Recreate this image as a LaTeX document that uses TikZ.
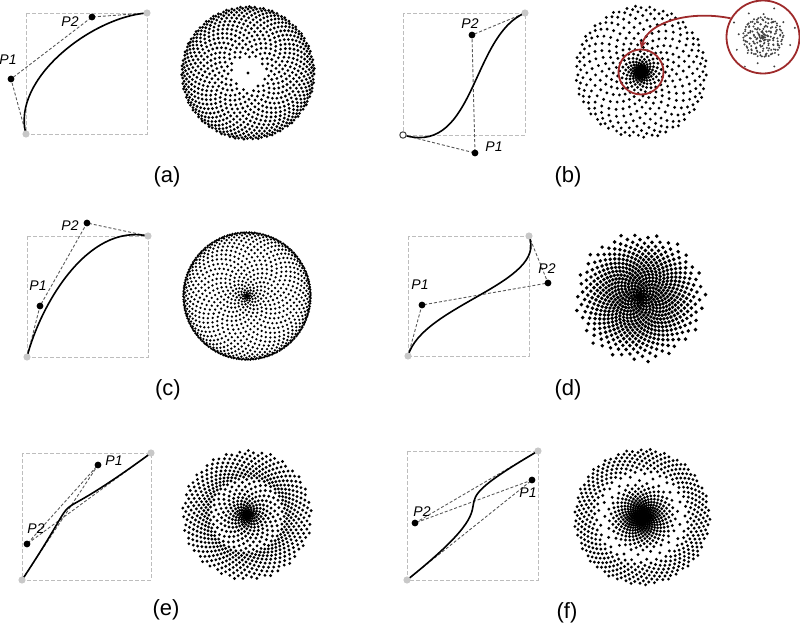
\documentclass[tikz,border=0pt]{standalone}
\usepackage{fontspec}
\setmainfont{Liberation Sans}
\usetikzlibrary{positioning,arrows.meta,backgrounds}
\definecolor{LensRed}{HTML}{9E2A2B}
\definecolor{BoxGray}{HTML}{BDBDBD}
\definecolor{EndGray}{HTML}{C8C8C8}

% sunflower disc: dot i at golden angle, radius from the Bezier (index -> radius)
\newcount\sfi
\newcommand\sfcurve[4]{\def\sfpa{#1}\def\sfqa{#2}\def\sfpb{#3}\def\sfqb{#4}}
\newcommand\sfmarch{%
  \let\sfnext\relax
  \ifdim\sft pt<1pt
    \pgfmathsetmacro\sfbx{3*(1-\sft)*(1-\sft)*\sft*(\sfpa)+3*(1-\sft)*\sft*\sft*(\sfpb)+\sft*\sft*\sft}%
    \ifdim\sfbx pt<\sfgoal pt
      \pgfmathsetmacro\sft{\sft+0.001}%
      \let\sfnext\sfmarch
    \fi
  \fi
  \sfnext}
\newcommand\sunflower[6]{% centre x, centre y, radius, dots, dot radius, last dot
  \def\sft{0}\def\sfa{0}\sfi=-1
  \loop
    \advance\sfi by 1
    \pgfmathsetmacro\sfgoal{\the\sfi/#4}%
    \sfmarch
    \pgfmathsetmacro\sfr{#3*(3*(1-\sft)*(1-\sft)*\sft*(\sfqa)+3*(1-\sft)*\sft*\sft*(\sfqb)+\sft*\sft*\sft)}%
    \pgfmathsetmacro\sfx{#1+\sfr*cos(\sfa)}%
    \pgfmathsetmacro\sfy{#2+\sfr*sin(\sfa)}%
    \fill (\sfx,\sfy) circle[radius=#5];
    \pgfmathsetmacro\sfa{mod(\sfa+137.50776,360)}%
  \ifnum\sfi<#6 \repeat}

\begin{document}
\begin{tikzpicture}[x=0.5pt,y=-0.5pt,
  frame/.style={draw=BoxGray, line width=0.5pt, dash pattern=on 2pt off 1pt},
  hull/.style={draw=black!65, line width=0.45pt, dash pattern=on 1.5pt off 1pt},
  bez/.style={draw=black, line width=0.8pt},
  ctrl/.style={circle, fill=black, inner sep=0pt, minimum size=3.4pt},
  endp/.style={circle, fill=EndGray, inner sep=0pt, minimum size=3.6pt},
  openp/.style={circle, draw=black!75, fill=white, line width=0.5pt, inner sep=0pt, minimum size=3.2pt},
  plab/.style={font=\fontsize{7}{8}\selectfont\itshape},
  tag/.style={font=\fontsize{11}{13}\selectfont},
  lens/.style={circle, draw=LensRed, line width=0.9pt, inner sep=0pt}]
\useasboundingbox (0,0) rectangle (800,627);

% (a)
\node[endp] (a0) at (26,134) {};
\node[ctrl] (a1) at (11,79) {};
\node[ctrl] (a2) at (92,17) {};
\node[endp] (a3) at (147,13) {};
\node[plab] (a1l) at (8,60) {P1};
\node[plab] (a2l) at (70,22) {P2};
\begin{scope}[on background layer]
\draw[frame] (26,13) rectangle (147,134);
\draw[hull] (a0.center) -- (a1.center) -- (a2.center) -- (a3.center);
\draw[bez] (a0.center) .. controls (a1.center) and (a2.center) .. (a3.center);
\end{scope}
\sfcurve{-0.124}{0.455}{0.545}{0.967}
\sunflower{248}{73}{66.5}{800}{1.55}{800}
\node[tag] (taga) at (167,177) {(a)};

% (b)
\node[openp] (b0) at (403,135) {};
\node[ctrl] (b1) at (475,153) {};
\node[ctrl] (b2) at (472,35) {};
\node[endp] (b3) at (525,13) {};
\node[plab] (b1l) at (494,147) {P1};
\node[plab] (b2l) at (470,24) {P2};
\begin{scope}[on background layer]
\draw[frame] (403,13) rectangle (525,135);
\draw[hull] (b0.center) -- (b1.center) -- (b2.center) -- (b3.center);
\draw[bez] (b0) .. controls (b1.center) and (b2.center) .. (b3.center);
\end{scope}
\sfcurve{0.590}{-0.148}{0.566}{0.820}
\sunflower{641}{72}{66}{680}{1.6}{680}
\begin{scope}[black!75]
\clip (763,37) circle[radius=35];
\sunflower{763}{37}{1300}{680}{1.1}{220}
\end{scope}
\node[lens, minimum size=22.5pt] (lens) at (641,72) {};
\node[lens, minimum size=36.5pt] (inset) at (763,37) {};
\draw[LensRed, line width=0.9pt, -{Stealth[length=4pt,width=3.5pt]}]
  (inset.150) .. controls (690,10) and (648,22) .. (lens.north);
\node[tag] (tagb) at (568,177) {(b)};

% (c)
\node[endp] (c0) at (27,357) {};
\node[ctrl] (c1) at (40,306) {};
\node[ctrl] (c2) at (87,223) {};
\node[endp] (c3) at (148,236) {};
\node[plab] (c1l) at (38,286) {P1};
\node[plab] (c2l) at (70,226) {P2};
\begin{scope}[on background layer]
\draw[frame] (27,236) rectangle (148,357);
\draw[hull] (c0.center) -- (c1.center) -- (c2.center) -- (c3.center);
\draw[bez] (c0.center) .. controls (c1.center) and (c2.center) .. (c3.center);
\end{scope}
\sfcurve{0.107}{0.421}{0.496}{1.107}
\sunflower{247}{296}{63}{1000}{1.3}{1000}
\node[tag] (tagc) at (168,390) {(c)};

% (d)
\node[endp] (d0) at (408,356) {};
\node[ctrl] (d1) at (422,305) {};
\node[ctrl] (d2) at (548,283) {};
\node[endp] (d3) at (529,236) {};
\node[plab] (d1l) at (420,285) {P1};
\node[plab] (d2l) at (547,269) {P2};
\begin{scope}[on background layer]
\draw[frame] (408,236) rectangle (529,356);
\draw[hull] (d0.center) -- (d1.center) -- (d2.center) -- (d3.center);
\draw[bez] (d0.center) .. controls (d1.center) and (d2.center) .. (d3.center);
\end{scope}
\sfcurve{0.116}{0.425}{1.157}{0.608}
\sunflower{640}{297}{78}{700}{1.95}{700}
\node[tag] (tagd) at (568,390) {(d)};

% (e)
\node[endp] (e0) at (22,580) {};
\node[ctrl] (e1) at (98,465) {};
\node[ctrl] (e2) at (27,544) {};
\node[endp] (e3) at (151,453) {};
\node[plab] (e1l) at (114,461) {P1};
\node[plab] (e2l) at (36,529) {P2};
\begin{scope}[on background layer]
\draw[frame] (22,453) rectangle (151,580);
\draw[hull] (e0.center) -- (e1.center) -- (e2.center) -- (e3.center);
\draw[bez] (e0.center) .. controls (e1.center) and (e2.center) .. (e3.center);
\end{scope}
\sfcurve{0.589}{0.906}{0.039}{0.283}
\sunflower{247}{515}{65}{800}{1.6}{800}
\node[tag] (tage) at (166,610) {(e)};

% (f)
\node[endp] (f0) at (407,580) {};
\node[ctrl] (f1) at (532,480) {};
\node[ctrl] (f2) at (415,523) {};
\node[endp] (f3) at (538,451) {};
\node[plab] (f1l) at (528,493) {P1};
\node[plab] (f2l) at (422,512) {P2};
\begin{scope}[on background layer]
\draw[frame] (407,451) rectangle (538,580);
\draw[hull] (f0.center) -- (f1.center) -- (f2.center) -- (f3.center);
\draw[bez] (f0.center) .. controls (f1.center) and (f2.center) .. (f3.center);
\end{scope}
\sfcurve{0.954}{0.775}{0.061}{0.442}
\sunflower{642}{517}{68}{900}{1.6}{900}
\node[tag] (tagf) at (567,613) {(f)};
\end{tikzpicture}
\end{document}
